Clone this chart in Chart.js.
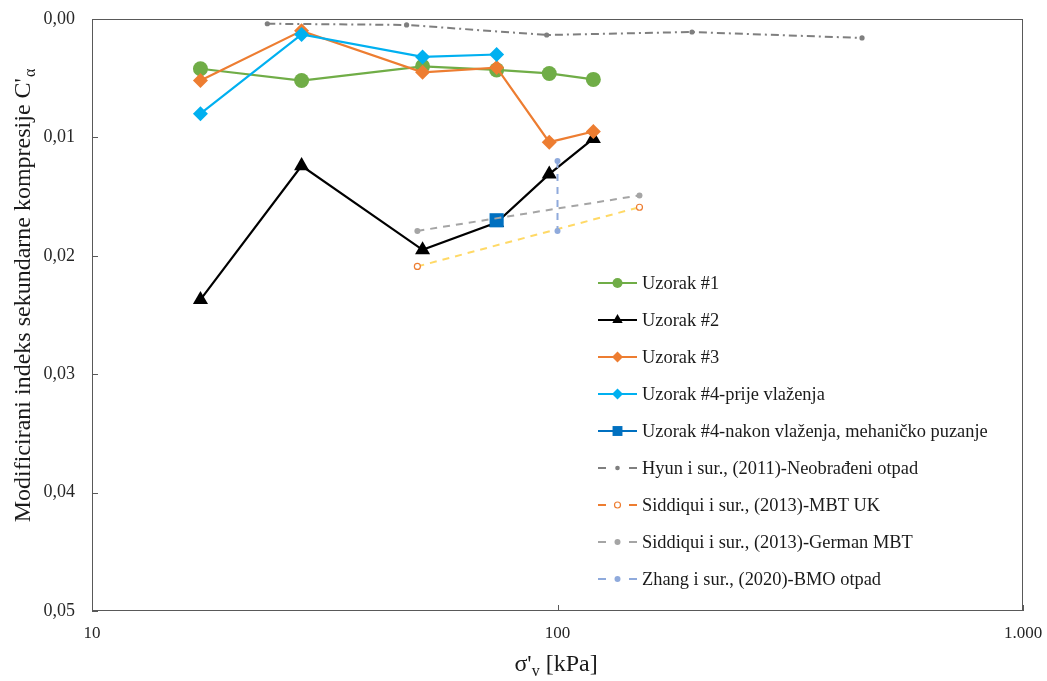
<!DOCTYPE html>
<html><head><meta charset="utf-8">
<script src="https://cdn.jsdelivr.net/npm/chart.js@4.4.1/dist/chart.umd.min.js"></script>
<style>html,body{margin:0;padding:0;background:#fff}#wrap{width:1047px;height:681px}</style>
</head><body><div id="wrap"><canvas id="c" width="1047" height="681"></canvas></div>
<script>
// ---- data ----
const seriesLabels = [
  'Uzorak #1',
  'Uzorak #2',
  'Uzorak #3',
  'Uzorak #4-prije vlaženja',
  'Uzorak #4-nakon vlaženja, mehaničko puzanje',
  'Hyun i sur., (2011)-Neobrađeni otpad',
  'Siddiqui i sur., (2013)-MBT UK',
  'Siddiqui i sur., (2013)-German MBT',
  'Zhang i sur., (2020)-BMO otpad'
];
const xUzorak = [17.1, 28.2, 51.3, 74.0, 96.0, 119.4];
const yUzorak1 = [0.0042, 0.0052, 0.0040, 0.0043, 0.0046, 0.0051];
const yUzorak2 = [0.0237, 0.0124, 0.0195, 0.0172, 0.0131, 0.0101];
const yUzorak3 = [0.0052, 0.0010, 0.0045, 0.0041, 0.0104, 0.0095];
const xUzorak4Prije = [17.1, 28.2, 51.3, 74.0];
const yUzorak4Prije = [0.0080, 0.0013, 0.0032, 0.0030];
const xUzorak4Nakon = [74.0];
const yUzorak4Nakon = [0.0170];
const xHyun = [23.8, 47.4, 94.8, 194.5, 451];
const yHyun = [0.0004, 0.0005, 0.00135, 0.0011, 0.0016];
const xSiddiquiUK = [50, 150];
const ySiddiquiUK = [0.0209, 0.0159];
const xSiddiquiDE = [50, 150];
const ySiddiquiDE = [0.0179, 0.0149];
const xZhang = [100, 100];
const yZhang = [0.0120, 0.0179];
const xTickValues = [10, 100, 1000];
const yTickValues = [0, 0.01, 0.02, 0.03, 0.04, 0.05];
const xTitle = ['σ\'', 'v', ' [kPa]'];
const yTitle = ['Modificirani indeks sekundarne kompresije C\'', 'α'];

const pts = (xs, ys) => xs.map((x, i) => ({x: x, y: ys[i]}));

const FONT = "'Liberation Serif', 'Times New Roman', serif";

const styles = [
  {color:'#70AD47', pointStyle:'circle', r:7.5, width:2.2, dash:[], legendR:5},
  {color:'#000000', pointStyle:'triangle', r:8.7, width:2.2, dash:[], legendR:6},
  {color:'#ED7D31', pointStyle:'rectRot', r:7.5, width:2.2, dash:[], legendR:5.5},
  {color:'#00B0F0', pointStyle:'rectRot', r:7.5, width:2.2, dash:[], legendR:5.5},
  {color:'#0070C0', pointStyle:'rect', r:10, width:2.2, dash:[], legendR:7},
  {color:'#7F7F7F', pointStyle:'circle', r:2.6, width:2, dash:[8,4,2,4], legendR:2.3, legendColor:'#7F7F7F', fill:'#7F7F7F'},
  {color:'#FFD966', pointStyle:'circle', r:3, width:2, dash:[7,6], legendR:3, legendColor:'#ED7D31', fill:'#FFFFFF', pointBorder:'#ED7D31'},
  {color:'#A5A5A5', pointStyle:'circle', r:3, width:2, dash:[7,6], legendR:3, legendColor:'#A5A5A5', fill:'#A5A5A5'},
  {color:'#8FAADC', pointStyle:'circle', r:3, width:2, dash:[7,6], legendR:3, legendColor:'#8FAADC', fill:'#8FAADC'}
];
const seriesData = [
  pts(xUzorak, yUzorak1),
  pts(xUzorak, yUzorak2),
  pts(xUzorak, yUzorak3),
  pts(xUzorak4Prije, yUzorak4Prije),
  pts(xUzorak4Nakon, yUzorak4Nakon),
  pts(xHyun, yHyun),
  pts(xSiddiquiUK, ySiddiquiUK),
  pts(xSiddiquiDE, ySiddiquiDE),
  pts(xZhang, yZhang)
];

const datasets = seriesData.map((d, i) => {
  const s = styles[i];
  return {
    label: seriesLabels[i],
    data: d,
    showLine: true,
    borderColor: s.color,
    backgroundColor: s.fill || s.color,
    borderWidth: s.width,
    borderDash: s.dash,
    tension: 0,
    pointStyle: s.pointStyle,
    pointRadius: s.r,
    pointHoverRadius: s.r,
    pointBackgroundColor: s.fill || s.color,
    pointBorderColor: s.pointBorder || s.color,
    pointBorderWidth: s.pointBorder ? 1.2 : 0,
    order: 20 - i
  };
});

function fmtX(v) {
  const s = String(Math.round(v));
  return s.replace(/\B(?=(\d{3})+(?!\d))/g, '.');
}
function fmtY(v) { return v.toFixed(2).replace('.', ','); }

function drawMarker(ctx, style, r, x, y, fill, stroke, bw) {
  ctx.beginPath();
  if (style === 'circle') {
    ctx.arc(x, y, r, 0, Math.PI * 2);
  } else if (style === 'triangle') {
    for (let k = 0; k < 3; k++) {
      const a = k * 2 * Math.PI / 3;
      const px = x + Math.sin(a) * r, py = y - Math.cos(a) * r;
      if (k === 0) ctx.moveTo(px, py); else ctx.lineTo(px, py);
    }
  } else if (style === 'rectRot') {
    ctx.moveTo(x, y - r); ctx.lineTo(x + r, y); ctx.lineTo(x, y + r); ctx.lineTo(x - r, y);
  } else if (style === 'rect') {
    const h = Math.SQRT1_2 * r;
    ctx.rect(x - h, y - h, 2 * h, 2 * h);
  }
  ctx.closePath();
  ctx.fillStyle = fill; ctx.fill();
  if (bw) { ctx.lineWidth = bw; ctx.strokeStyle = stroke; ctx.stroke(); }
}

const decor = {
  id: 'decor',
  afterDraw(chart) {
    const ctx = chart.ctx;
    const a = chart.chartArea;
    const xs = chart.scales.x, ys = chart.scales.y;
    ctx.save();
    // frame
    ctx.strokeStyle = '#595959';
    ctx.lineWidth = 1;
    ctx.setLineDash([]);
    ctx.strokeRect(Math.round(a.left) + 0.5, Math.round(a.top) + 0.5,
      Math.round(a.right - a.left) - 1, Math.round(a.bottom - a.top) - 1);
    // inner ticks
    ctx.beginPath();
    yTickValues.forEach(v => {
      const py = Math.round(ys.getPixelForValue(v)) + 0.5;
      ctx.moveTo(a.left, py); ctx.lineTo(a.left + 6, py);
    });
    xTickValues.forEach(v => {
      const px = Math.round(xs.getPixelForValue(v)) + 0.5;
      ctx.moveTo(px, a.bottom); ctx.lineTo(px, a.bottom - 6);
    });
    ctx.stroke();

    // y title
    ctx.fillStyle = '#1a1a1a';
    ctx.textBaseline = 'middle';
    ctx.textAlign = 'left';
    const big = '24px ' + FONT, small = '16px ' + FONT;
    ctx.font = big; const w1 = ctx.measureText(yTitle[0]).width;
    ctx.font = small; const w2 = ctx.measureText(yTitle[1]).width;
    ctx.save();
    ctx.translate(24, 296);
    ctx.rotate(-Math.PI / 2);
    const sx = -(w1 + w2) / 2;
    ctx.font = big; ctx.fillText(yTitle[0], sx, 0);
    ctx.font = small; ctx.fillText(yTitle[1], sx + w1 + 1, 7);
    ctx.restore();

    // x title
    ctx.font = big; const a1 = ctx.measureText(xTitle[0]).width;
    ctx.font = small; const a2 = ctx.measureText(xTitle[1]).width;
    ctx.font = big; const a3 = ctx.measureText(xTitle[2]).width;
    let tx = 556 - (a1 + a2 + a3) / 2;
    const ty = 665;
    ctx.font = big; ctx.fillText(xTitle[0], tx, ty); tx += a1;
    ctx.font = small; ctx.fillText(xTitle[1], tx, ty + 7); tx += a2;
    ctx.font = big; ctx.fillText(xTitle[2], tx, ty);

    // legend
    const lx0 = 598, lx1 = 637, textX = 642, row0 = 283, step = 37;
    ctx.font = '18.4px ' + FONT;
    chart.data.datasets.forEach((ds, i) => {
      const s = styles[i];
      const y = row0 + i * step;
      ctx.beginPath();
      ctx.strokeStyle = s.legendColor || s.color;
      ctx.lineWidth = s.width;
      ctx.setLineDash(s.dash.length ? [8, 23] : []);
      ctx.moveTo(lx0, y); ctx.lineTo(lx1, y);
      ctx.stroke();
      ctx.setLineDash([]);
      drawMarker(ctx, s.pointStyle, s.legendR, (lx0 + lx1) / 2, y,
        s.fill || s.color, s.pointBorder || s.color, s.pointBorder ? 1.2 : 0);
      ctx.fillStyle = '#1a1a1a';
      ctx.textBaseline = 'middle';
      ctx.fillText(ds.label, textX, y + 1);
    });
    ctx.restore();
  }
};

new Chart(document.getElementById('c'), {
  type: 'scatter',
  data: { datasets: datasets },
  options: {
    responsive: false,
    animation: false,
    layout: { padding: { left: 0, top: 19, right: 24, bottom: 0 } },
    plugins: { legend: { display: false }, tooltip: { enabled: false } },
    scales: {
      x: {
        type: 'logarithmic',
        min: 10, max: 1000,
        grid: { display: false, drawTicks: false },
        border: { display: false },
        afterBuildTicks(scale) { scale.ticks = xTickValues.map(v => ({ value: v })); },
        afterFit(scale) { scale.height = 70; scale.paddingLeft = 0; scale.paddingRight = 0; },
        ticks: {
          autoSkip: false, maxRotation: 0, padding: 12,
          color: '#262626', font: { family: FONT, size: 17 },
          callback: (v) => fmtX(v)
        }
      },
      y: {
        reverse: true,
        min: 0, max: 0.05,
        grid: { display: false, drawTicks: false },
        border: { display: false },
        afterBuildTicks(scale) { scale.ticks = yTickValues.map(v => ({ value: v })); },
        afterFit(scale) { scale.width = 92; scale.paddingTop = 0; scale.paddingBottom = 0; },
        ticks: {
          autoSkip: false, padding: 17,
          color: '#262626', font: { family: FONT, size: 18 },
          callback: (v) => fmtY(v)
        }
      }
    }
  },
  plugins: [decor]
});
</script>
</body></html>
